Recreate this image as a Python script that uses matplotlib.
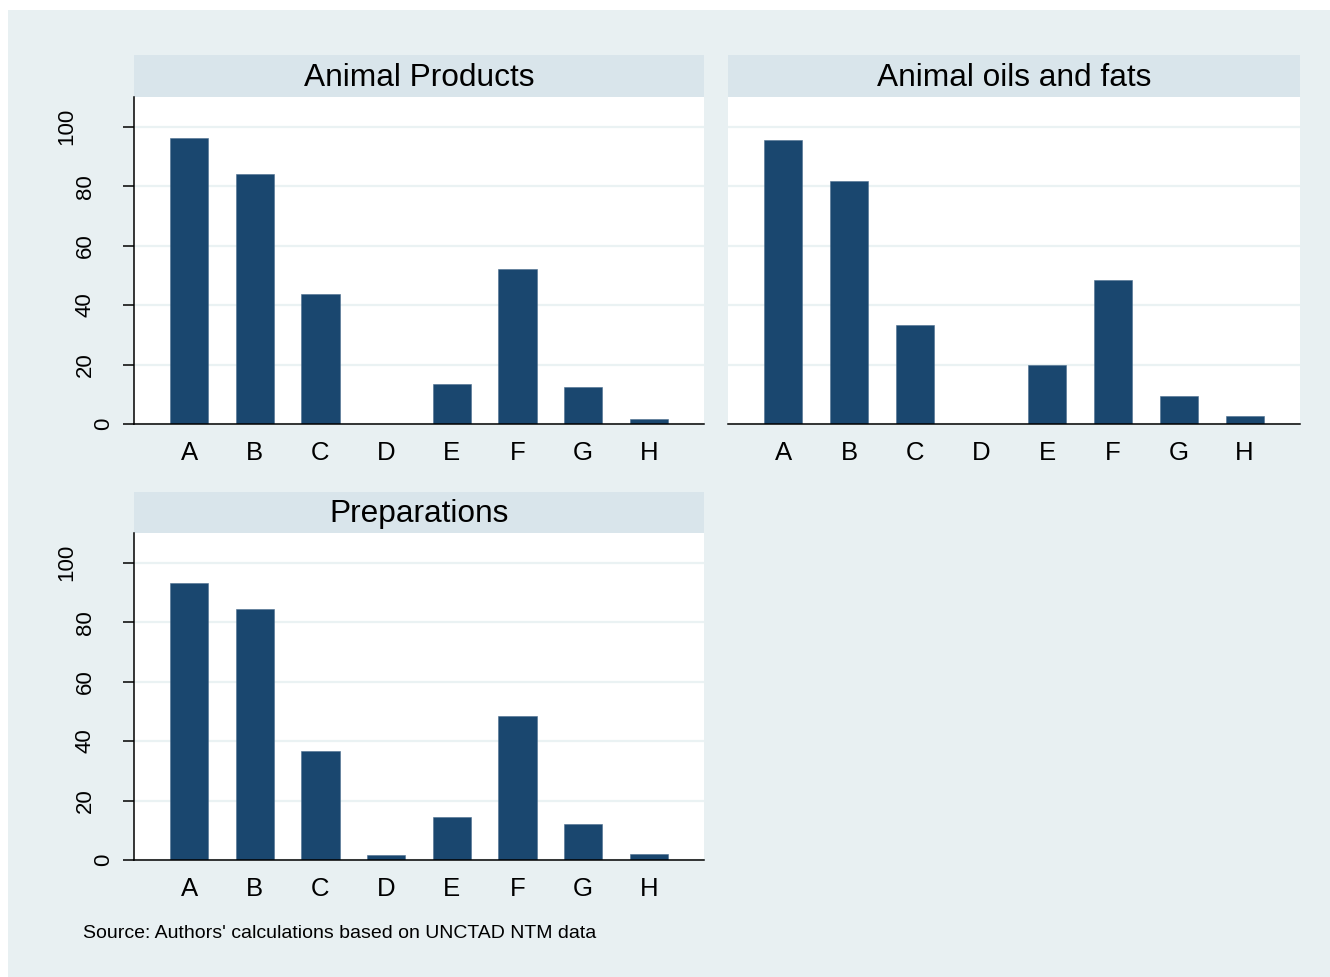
import matplotlib.pyplot as plt
import matplotlib.patches as patches
import numpy as np

plt.rcParams['font.family'] = ['Liberation Sans', 'DejaVu Sans']

categories = ['A', 'B', 'C', 'D', 'E', 'F', 'G', 'H']
animal_products = [96.3, 84.2, 43.8, 0.0, 13.5, 52.2, 12.5, 1.7]
animal_oils = [95.6, 81.8, 33.3, 0.0, 19.9, 48.5, 9.4, 2.7]
preparations = [93.2, 84.5, 36.5, 1.7, 14.5, 48.6, 12.2, 2.0]
titles = ['Animal Products', 'Animal oils and fats', 'Preparations']
yticks = [0, 20, 40, 60, 80, 100]

W, H = 1330, 977
bg = '#e8f0f2'
strip_col = '#d9e5eb'
bar_col = '#1a476f'
grid_col = '#eaf2f3'

fig = plt.figure(figsize=(W / 100, H / 100), dpi=100)
fig.patches.append(patches.Rectangle((8 / W, 0), 1 - 8 / W, 1 - 10 / H,
                                     transform=fig.transFigure,
                                     facecolor=bg, edgecolor='none', zorder=-5))


def px_rect(x0, y0, x1, y1):
    return [x0 / W, 1 - y1 / H, (x1 - x0) / W, (y1 - y0) / H]


def panel(x0, x1, strip_top, top, base, values, title, show_y):
    st = fig.add_axes(px_rect(x0, strip_top, x1, top))
    st.set_facecolor(strip_col)
    st.set_xticks([])
    st.set_yticks([])
    for s in st.spines.values():
        s.set_visible(False)
    st.text(0.5, 0.46, title, ha='center', va='center', fontsize=22.8,
            transform=st.transAxes)

    ax = fig.add_axes(px_rect(x0, top, x1, base))
    ax.set_facecolor('white')
    x = np.arange(len(categories))
    ax.bar(x, values, width=0.58, color=bar_col, edgecolor='#4d6f8f',
           linewidth=0.4, zorder=3)
    ax.set_xlim(-0.84, 7.84)
    ax.set_ylim(0, 110)
    ax.set_yticks(yticks)
    ax.yaxis.grid(True, color=grid_col, linewidth=1.6, zorder=0)
    ax.set_xticks(x)
    ax.set_xticklabels(categories, fontsize=18.5)
    ax.tick_params(axis='x', length=0, pad=12)
    for s in ['top', 'right']:
        ax.spines[s].set_visible(False)
    ax.spines['bottom'].set_linewidth(1.1)
    ax.spines['bottom'].set_zorder(4)
    if show_y:
        ax.spines['left'].set_linewidth(1.1)
        ax.tick_params(axis='y', length=8, width=1.1, labelleft=False)
        # stata puts rotated labels further out the longer they are
        for t in yticks:
            n = len(str(t))
            off = (-30.5 - 18.5 * (n - 1)) * 0.72
            ax.annotate(str(t), xy=(0, t), xycoords=('axes fraction', 'data'),
                        xytext=(off, 0), textcoords='offset points',
                        rotation=90, ha='center', va='center', fontsize=16,
                        annotation_clip=False)
    else:
        ax.spines['left'].set_visible(False)
        ax.tick_params(axis='y', length=0, labelleft=False)
    return ax


panel(134, 704, 55, 97, 424, animal_products, titles[0], True)
panel(728, 1300, 55, 97, 424, animal_oils, titles[1], False)
panel(134, 704, 492, 533, 860, preparations, titles[2], True)

fig.text(83 / W, 1 - 933 / H, "Source: Authors' calculations based on UNCTAD NTM data",
         fontsize=14, ha='left', va='center')

fig.savefig('out.png', dpi=100, facecolor='white')
